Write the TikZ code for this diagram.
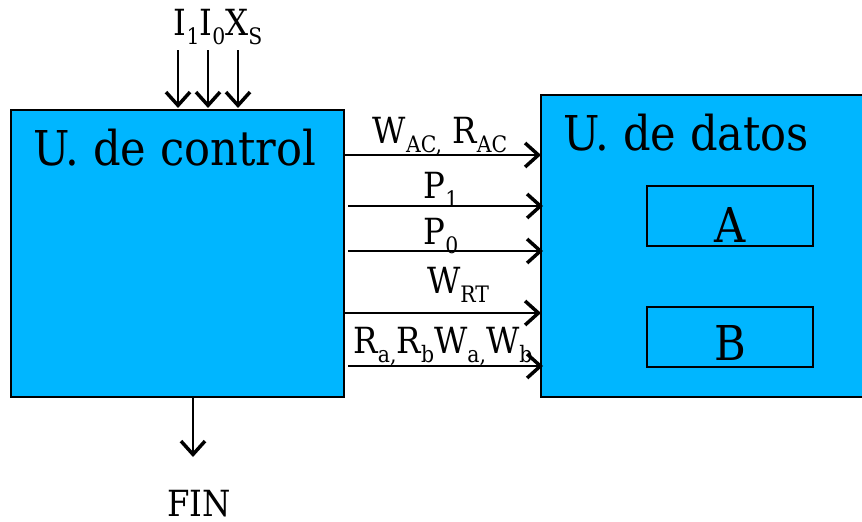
\documentclass[tikz,border=0pt]{standalone}
\usepackage{fontspec}
\setmainfont[FakeStretch=0.9]{DejaVu Serif}
\usetikzlibrary{arrows.meta}
\definecolor{unitblue}{RGB}{0,182,255}
\newcommand{\lo}[1]{\raisebox{-7pt}{\fontsize{17}{17}\selectfont #1}}

\begin{document}
\begin{tikzpicture}[x=0.75pt, y=-0.75pt,
  unit/.style={draw=black, line width=1.3pt, fill=unitblue, inner sep=0pt},
  reg/.style={draw=black, line width=1.3pt, inner sep=0pt, minimum width=124.5pt, minimum height=45pt},
  sig/.style={line width=1.1pt, -{Straight Barb[length=10pt,width=18pt,line width=2.6pt]}},
  big/.style={font=\fontsize{36}{36}\selectfont, anchor=base, inner sep=0pt},
  lab/.style={font=\fontsize{27}{27}\selectfont, anchor=base, inner sep=0pt}]
\useasboundingbox (0,0) rectangle (862,521);

% Units
\node[unit, minimum width=249.75pt, minimum height=215.25pt] (ctrl) at (177.5,253.5) {};
\node[unit, minimum width=254pt, minimum height=226.5pt] (data) at (710.5,246) {};
\node[big, anchor=base west] (ctrltxt) at (33,165) {U. de control};
\node[big, anchor=base west] (datatxt) at (563,150) {U. de datos};

% Registers
\node[reg] (regA) at (730,216) {};
\node[reg] (regB) at (730,337) {};
\node[big] (txtA) at (730,242) {A};
\node[big] (txtB) at (730,360) {B};

% Inputs
\node[lab] (ins) at (218,35) {I\lo{1}I\lo{0}X\lo{S}};
\foreach \x in {178,208,238}{
  \coordinate (in\x) at (\x,50);
  \coordinate (top\x) at (\x,108);
  \draw[sig] (in\x) -- (top\x);
}

% Control signals
\foreach \y/\xs/\xe in {155/344/541, 206/348/543, 251/348/543, 313/344/541, 366/348/543}{
  \coordinate (s\y) at (\xs,\y);
  \coordinate (t\y) at (\xe,\y);
  \draw[sig] (s\y) -- (t\y);
}
\node[lab] (wac) at (440,143) {W\lo{AC,} R\lo{AC}};
\node[lab] (p1) at (441,198) {P\lo{1}};
\node[lab] (p0) at (441,244) {P\lo{0}};
\node[lab] (wrt) at (458,293) {W\lo{RT}};
\node[lab] (rw) at (443,353) {R\lo{a,}R\lo{b}W\lo{a,}W\lo{b}};

% Output
\coordinate (out) at (193,397);
\coordinate (outend) at (193,457);
\draw[sig] (out) -- (outend);
\node[lab] (fin) at (199,516) {FIN};

\end{tikzpicture}
\end{document}
